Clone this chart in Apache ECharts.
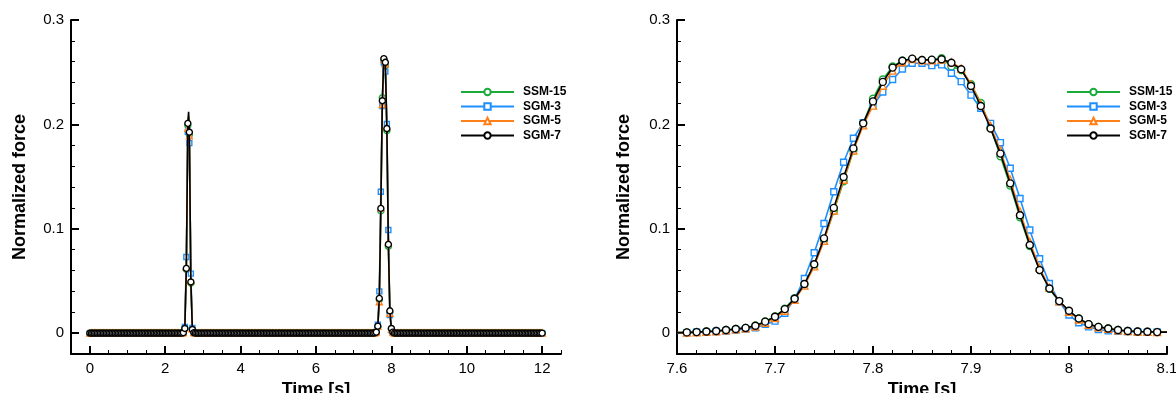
<!DOCTYPE html>
<html>
<head>
<meta charset="utf-8">
<script src="https://cdn.jsdelivr.net/npm/echarts@6/dist/echarts.min.js"></script>
<style>
  html, body { margin: 0; padding: 0; background: #fff; }
  #chart { width: 1176px; height: 393px; }
</style>
</head>
<body>
<div id="chart"></div>
<script>
const seriesNames = ['SSM-15', 'SGM-3', 'SGM-5', 'SGM-7']
const seriesColors = ['#1aab3a', '#1e8fff', '#ff8019', '#000000']
const seriesSymbols = ['circle', 'rect', 'triangle', 'circle']

// left panel: whole run, flat zero between the two peaks (markers every 0.04 s)
const baseTimes = []
for (let k = 0; k <= 300; k++) baseTimes.push(+(k * 0.04).toFixed(2))

const peak1Times = [2.48, 2.52, 2.56, 2.60, 2.62, 2.64, 2.68, 2.72, 2.76]
const peak1Marked = [1, 1, 1, 1, 0, 1, 1, 1, 1]
const peak1Ssm15 = [0.0005, 0.005, 0.061, 0.199, 0.208, 0.19, 0.048, 0.004, 0.0005]
const peak1Sgm3 = [0.0005, 0.006, 0.073, 0.193, 0.2, 0.182, 0.057, 0.005, 0.0005]
const peak1Sgm5 = [0.0005, 0.0048, 0.063, 0.196, 0.206, 0.189, 0.05, 0.004, 0.0005]
const peak1Sgm7 = [0.0005, 0.0045, 0.062, 0.201, 0.212, 0.1925, 0.049, 0.0035, 0.0005]

const peak2Times = [7.56, 7.60, 7.64, 7.68, 7.72, 7.76, 7.80, 7.84, 7.88, 7.92, 7.96, 8.00, 8.04]
const peak2Ssm15 = [0.0003, 0.001, 0.006, 0.032, 0.117, 0.2256, 0.262, 0.256, 0.194, 0.083, 0.02, 0.004, 0.001]
const peak2Sgm3 = [0.0003, 0.0012, 0.008, 0.04, 0.1355, 0.2176, 0.259, 0.2505, 0.2004, 0.0988, 0.0173, 0.003, 0.001]
const peak2Sgm5 = [0.0003, 0.001, 0.0065, 0.03, 0.12, 0.219, 0.262, 0.258, 0.198, 0.087, 0.019, 0.004, 0.001]
const peak2Sgm7 = [0.0003, 0.001, 0.0067, 0.0333, 0.1195, 0.2227, 0.263, 0.2595, 0.196, 0.085, 0.0214, 0.0045, 0.001]

// right panel: zoom on the second peak, markers every 0.01 s
const rightTimes = [
  7.60, 7.61, 7.62, 7.63, 7.64, 7.65, 7.66, 7.67, 7.68, 7.69,
  7.70, 7.71, 7.72, 7.73, 7.74, 7.75, 7.76, 7.77, 7.78, 7.79,
  7.80, 7.81, 7.82, 7.83, 7.84, 7.85, 7.86, 7.87, 7.88, 7.89,
  7.90, 7.91, 7.92, 7.93, 7.94, 7.95, 7.96, 7.97, 7.98, 7.99,
  8.00, 8.01, 8.02, 8.03, 8.04, 8.05, 8.06, 8.07, 8.08, 8.09, 8.10,
]
const rightSsm15 = [
  0.0005, 0.0007, 0.001, 0.0015, 0.002, 0.003, 0.004, 0.005, 0.0072, 0.0112,
  0.016, 0.0235, 0.0335, 0.0465, 0.065, 0.089, 0.117, 0.1455, 0.175, 0.201,
  0.2245, 0.243, 0.2555, 0.261, 0.2625, 0.2615, 0.2615, 0.2635, 0.2555, 0.252,
  0.2385, 0.2205, 0.1965, 0.1695, 0.1415, 0.111, 0.0835, 0.0605, 0.0425, 0.0305,
  0.021, 0.0138, 0.0085, 0.006, 0.0045, 0.003, 0.002, 0.0016, 0.0013, 0.001, 0.001,
]
const rightSgm3 = [
  0.0004, 0.0005, 0.0008, 0.001, 0.0015, 0.002, 0.003, 0.004, 0.005, 0.0085,
  0.0115, 0.019, 0.0326, 0.0524, 0.077, 0.105, 0.1355, 0.1637, 0.1867, 0.2017,
  0.218, 0.231, 0.243, 0.253, 0.2586, 0.2586, 0.2563, 0.257, 0.249, 0.241,
  0.228, 0.2154, 0.201, 0.1825, 0.158, 0.129, 0.0988, 0.0712, 0.0476, 0.03,
  0.0173, 0.0099, 0.006, 0.0035, 0.0022, 0.0018, 0.0015, 0.0012, 0.001, 0.001, 0.001,
]
const rightSgm5 = [
  0.0005, 0.0006, 0.0009, 0.0013, 0.0018, 0.0027, 0.0037, 0.0046, 0.0063, 0.0098,
  0.0145, 0.0215, 0.032, 0.0455, 0.064, 0.0885, 0.1175, 0.147, 0.175, 0.199,
  0.218, 0.237, 0.2515, 0.2595, 0.2625, 0.2615, 0.2615, 0.262, 0.2595, 0.2535,
  0.2385, 0.2195, 0.1985, 0.175, 0.147, 0.1165, 0.0875, 0.0625, 0.0435, 0.0305,
  0.0205, 0.013, 0.008, 0.0055, 0.0042, 0.0028, 0.0019, 0.0015, 0.0012, 0.001, 0.001,
]
const rightSgm7 = [
  0.0005, 0.0007, 0.001, 0.0015, 0.002, 0.003, 0.004, 0.005, 0.007, 0.011,
  0.0157, 0.023, 0.033, 0.047, 0.066, 0.0908, 0.12, 0.1496, 0.177, 0.201,
  0.222, 0.2407, 0.2544, 0.261, 0.263, 0.2617, 0.262, 0.2624, 0.259, 0.2528,
  0.2368, 0.2176, 0.196, 0.172, 0.1435, 0.113, 0.0844, 0.0604, 0.0428, 0.0307,
  0.0214, 0.014, 0.0086, 0.006, 0.0045, 0.003, 0.002, 0.0016, 0.0013, 0.001, 0.001,
]

const yTicks = [0, 0.1, 0.2, 0.3]
const leftXTicks = [0, 2, 4, 6, 8, 10, 12]
const rightXTicks = [7.6, 7.7, 7.8, 7.9, 8, 8.1]

const FONT = '"Liberation Sans", Arial, Helvetica, sans-serif'

function leftData(peak1, peak2) {
  const lo1 = peak1Times[0], hi1 = peak1Times[peak1Times.length - 1]
  const lo2 = peak2Times[0], hi2 = peak2Times[peak2Times.length - 1]
  const pts = []
  baseTimes.forEach((t) => {
    if ((t >= lo1 && t <= hi1) || (t >= lo2 && t <= hi2)) return
    pts.push({ value: [t, 0] })
  })
  peak1Times.forEach((t, i) => {
    const item = { value: [t, peak1[i]] }
    if (!peak1Marked[i]) item.symbol = 'none'
    pts.push(item)
  })
  peak2Times.forEach((t, i) => pts.push({ value: [t, peak2[i]] }))
  pts.sort((a, b) => a.value[0] - b.value[0])
  return pts
}

function rightData(values) {
  const last = rightTimes.length - 1
  return rightTimes.map((t, i) => {
    const item = { value: [t, values[i]] }
    if (i === 0 || i === last) item.symbol = 'none'
    return item
  })
}

// minor axis carries the axis line and the short ticks, major axis the labels
function minorAxis(grid, pos, min, max, step) {
  return {
    type: 'value', gridIndex: grid, position: pos, min, max, interval: step,
    axisLine: { show: true, onZero: false, lineStyle: { color: '#000', width: 2 } },
    axisTick: { show: true, inside: true, length: 4, lineStyle: { color: '#000', width: 1 } },
    axisLabel: { show: false },
    splitLine: { show: false },
  }
}

function majorAxis(grid, pos, min, max, ticks, name, gap) {
  return {
    type: 'value', gridIndex: grid, position: pos, min, max,
    name, nameLocation: 'middle', nameGap: gap,
    nameTextStyle: { fontFamily: FONT, fontSize: 18, fontWeight: 'bold', color: '#000' },
    axisLine: { show: false, onZero: false },
    axisTick: { show: true, inside: true, length: 8, customValues: ticks, lineStyle: { color: '#000', width: 2 } },
    axisLabel: { show: true, customValues: ticks, margin: 7, fontFamily: FONT, fontSize: 15, color: '#000' },
    splitLine: { show: false },
  }
}

function makeSeries(grid, dataList, size) {
  return dataList.map((data, i) => ({
    name: seriesNames[i],
    type: 'line',
    xAxisIndex: grid * 2,
    yAxisIndex: grid * 2,
    data,
    color: seriesColors[i],
    symbol: seriesSymbols[i],
    symbolSize: seriesSymbols[i] === 'rect' ? size - 1 : size,
    showAllSymbol: true,
    lineStyle: { color: seriesColors[i], width: 1.6 },
    itemStyle: { color: '#fff', borderColor: seriesColors[i], borderWidth: 1.4 },
    emphasis: { disabled: true },
    z: 2 + i,
  }))
}

function makeLegend(left) {
  return {
    left, top: 80, orient: 'vertical',
    itemWidth: 53, itemHeight: 8, itemGap: 0.5,
    data: seriesNames,
    textStyle: {
      fontFamily: FONT, fontSize: 12, fontWeight: 'bold', color: '#000',
      lineHeight: 14, padding: [0, 0, 0, 4],
    },
  }
}

const chart = echarts.init(document.getElementById('chart'), null, { renderer: 'canvas' })

chart.setOption({
  animation: false,
  backgroundColor: '#fff',
  grid: [
    { left: 71, top: 20, width: 490, height: 334, outerBoundsMode: 'none' },
    { left: 677, top: 20, width: 490, height: 334, outerBoundsMode: 'none' },
  ],
  legend: [makeLegend(455), makeLegend(1061)],
  xAxis: [
    minorAxis(0, 'bottom', -0.5, 12.5, 0.5),
    majorAxis(0, 'bottom', -0.5, 12.5, leftXTicks, 'Time [s]', 20),
    minorAxis(1, 'bottom', 7.6, 8.1, 0.02),
    majorAxis(1, 'bottom', 7.6, 8.1, rightXTicks, 'Time [s]', 20),
  ],
  yAxis: [
    minorAxis(0, 'left', -0.02, 0.3, 0.02),
    majorAxis(0, 'left', -0.02, 0.3, yTicks, 'Normalized force', 42),
    minorAxis(1, 'left', -0.02, 0.3, 0.02),
    majorAxis(1, 'left', -0.02, 0.3, yTicks, 'Normalized force', 44),
  ],
  series: [
    ...makeSeries(0, [
      leftData(peak1Ssm15, peak2Ssm15),
      leftData(peak1Sgm3, peak2Sgm3),
      leftData(peak1Sgm5, peak2Sgm5),
      leftData(peak1Sgm7, peak2Sgm7),
    ], 6),
    ...makeSeries(1, [
      rightData(rightSsm15),
      rightData(rightSgm3),
      rightData(rightSgm5),
      rightData(rightSgm7),
    ], 7),
  ],
})
</script>
</body>
</html>
